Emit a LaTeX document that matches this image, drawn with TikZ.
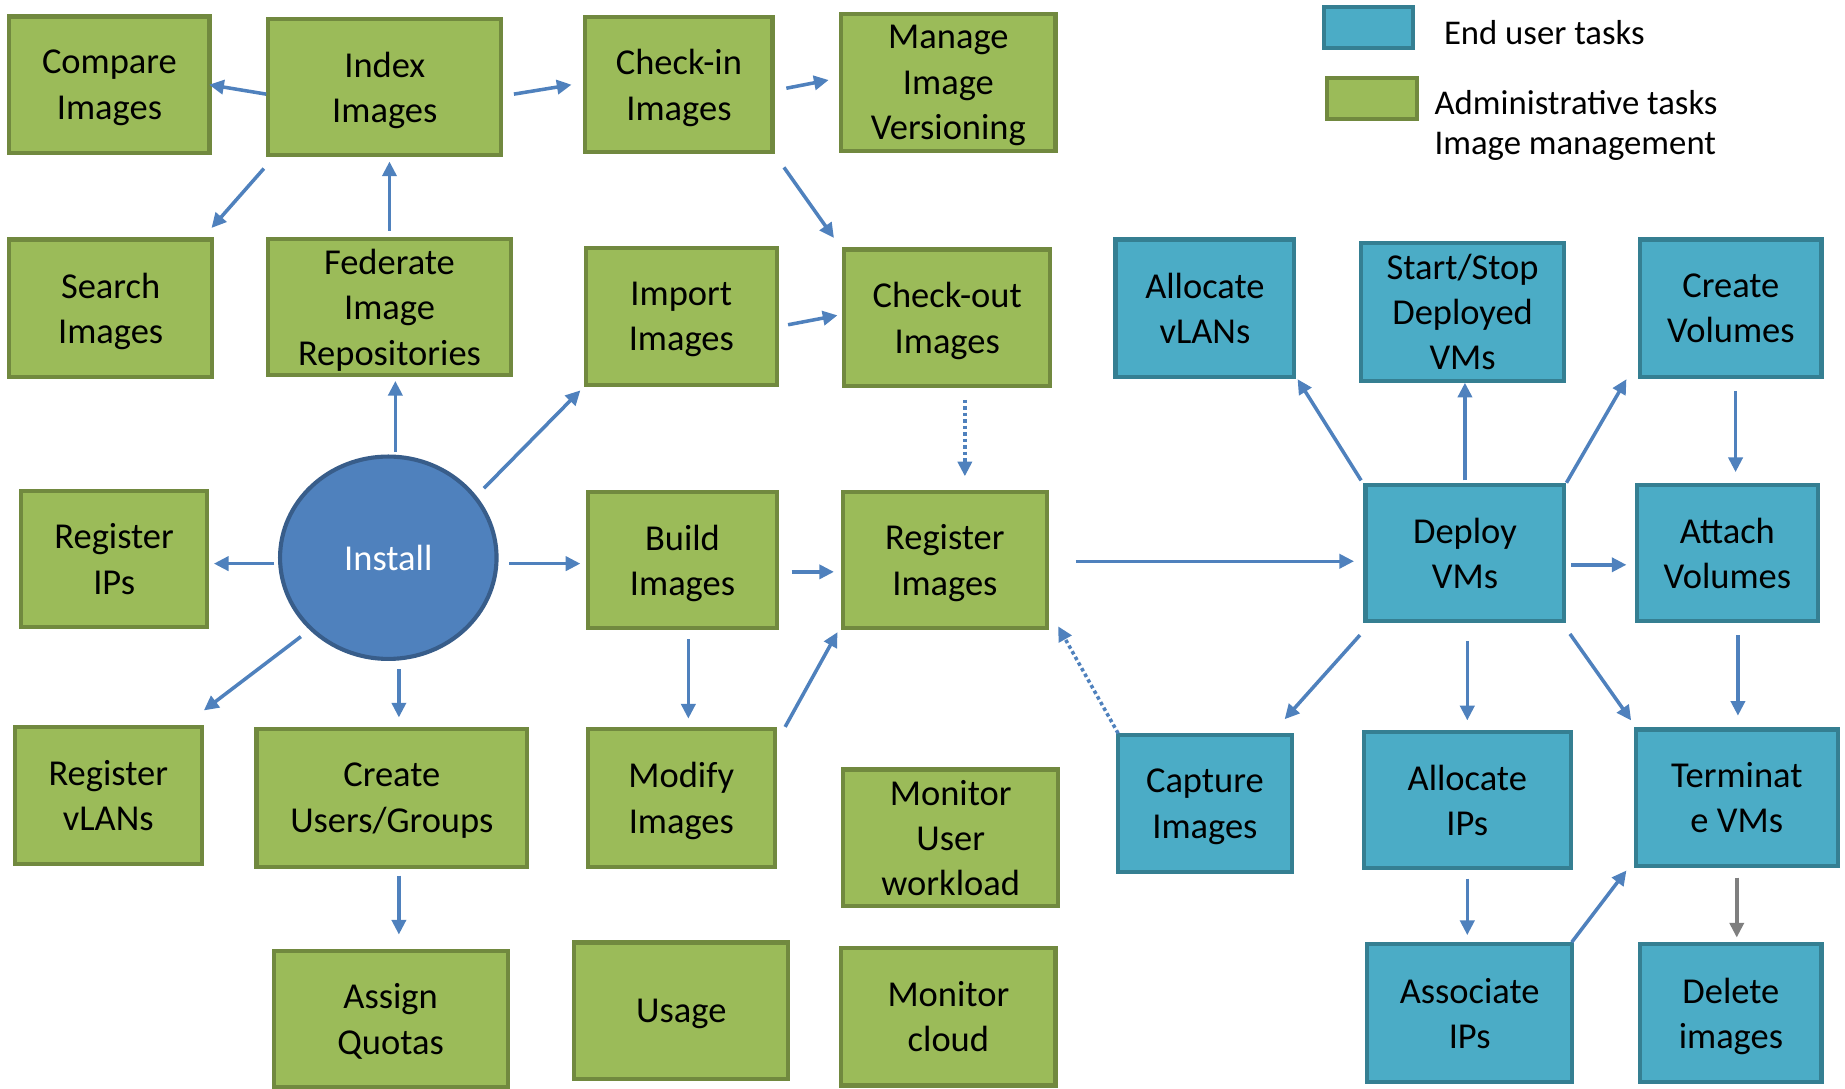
\documentclass[tikz,border=0pt]{standalone}
\usepackage{fontspec}
\setmainfont{Carlito}
\usetikzlibrary{arrows.meta,shapes.geometric}

\definecolor{admfill}{HTML}{9BBB59}
\definecolor{admline}{HTML}{71893F}
\definecolor{usrfill}{HTML}{4BACC6}
\definecolor{usrline}{HTML}{357F92}
\definecolor{instfill}{HTML}{4F81BD}
\definecolor{instline}{HTML}{385D8A}
\definecolor{flow}{HTML}{4F81BD}
\definecolor{flowgray}{HTML}{7F7F7F}

\tikzset{
  taskbox/.style={rectangle, line width=3.5pt, inner sep=0pt, align=center,
    font=\fontsize{31}{38.5}\selectfont, text depth=-5.5pt},
  gbox/.style={taskbox, draw=admline, fill=admfill},
  bbox/.style={taskbox, draw=usrline, fill=usrfill},
  arr/.style={draw=flow, line width=3pt, -{Triangle[length=12.5pt,width=12pt]}},
  dotarr/.style={arr, dash pattern=on 3pt off 2.5pt},
  grayarr/.style={arr, draw=flowgray},
  legendtxt/.style={anchor=west, inner sep=0pt, font=\fontsize{29.5}{35}\selectfont}
}

\begin{document}
\begin{tikzpicture}[x=1pt,y=-1pt]
\useasboundingbox (0,0) rectangle (1568,925.5);

% administrative tasks
\node[gbox, minimum width=170pt, minimum height=116pt] (compare)  at (93,72)   {Compare\\Images};
\node[gbox, minimum width=198pt, minimum height=115pt] (index)    at (327,74)  {Index\\Images};
\node[gbox, minimum width=159pt, minimum height=115pt] (checkin)  at (577,72)  {Check-in\\Images};
\node[gbox, minimum width=182pt, minimum height=116pt] (manage)   at (806,70)  {Manage\\Image\\Versioning};
\node[gbox, minimum width=172pt, minimum height=117pt] (search)   at (94,262)  {Search\\Images};
\node[gbox, minimum width=207pt, minimum height=116pt] (federate) at (331,261) {Federate\\Image\\Repositories};
\node[gbox, minimum width=162pt, minimum height=116pt] (import)   at (579,269) {Import\\Images};
\node[gbox, minimum width=175pt, minimum height=116pt] (checkout) at (805,270) {Check-out\\Images};
\node[gbox, minimum width=158pt, minimum height=116pt] (regips)   at (97,475)  {Register\\IPs};
\node[gbox, minimum width=160pt, minimum height=115pt] (build)    at (580,476) {Build\\Images};
\node[gbox, minimum width=173pt, minimum height=115pt] (regimg)   at (803,476) {Register\\Images};
\node[gbox, minimum width=159pt, minimum height=117pt] (regvlan)  at (92,676)  {Register\\vLANs};
\node[gbox, minimum width=230pt, minimum height=117pt] (users)    at (333,678) {Create\\Users/Groups};
\node[gbox, minimum width=159pt, minimum height=117pt] (modify)   at (579,678) {Modify\\Images};
\node[gbox, minimum width=183pt, minimum height=116pt] (monuser)  at (808,712) {Monitor\\User\\workload};
\node[gbox, minimum width=199pt, minimum height=116pt] (quotas)   at (332,866) {Assign\\Quotas};
\node[gbox, minimum width=182pt, minimum height=116pt] (usage)    at (579,859) {Usage};
\node[gbox, minimum width=182pt, minimum height=117pt] (moncloud) at (806,864) {Monitor\\cloud};

% install
\node[ellipse, draw=instline, fill=instfill, line width=3.5pt, inner sep=0pt,
      minimum width=184pt, minimum height=172pt, text=white,
      font=\fontsize{31}{38.5}\selectfont] (install) at (330,474) {Install};

% end user tasks
\node[bbox, minimum width=152pt, minimum height=117pt] (allocvlan) at (1024,262) {Allocate\\vLANs};
\node[bbox, minimum width=173pt, minimum height=117pt] (startstop) at (1243,265) {Start/Stop\\Deployed\\VMs};
\node[bbox, minimum width=154pt, minimum height=117pt] (createvol) at (1471,262) {Create\\Volumes};
\node[bbox, minimum width=169pt, minimum height=116pt] (deploy)    at (1245,470) {Deploy\\VMs};
\node[bbox, minimum width=154pt, minimum height=116pt] (attach)    at (1468,470) {Attach\\Volumes};
\node[bbox, minimum width=148pt, minimum height=116pt] (capture)   at (1024,683) {Capture\\Images};
\node[bbox, minimum width=176pt, minimum height=116pt] (allocips)  at (1247,680) {Allocate\\IPs};
\node[bbox, minimum width=172pt, minimum height=116pt] (terminate) at (1476,678) {Terminat\\e VMs};
\node[bbox, minimum width=174pt, minimum height=117pt] (associps)  at (1249,861) {Associate\\IPs};
\node[bbox, minimum width=154pt, minimum height=117pt] (delete)    at (1471,861) {Delete\\images};

% legend
\node[bbox, minimum width=76pt, minimum height=35pt] (keyuser) at (1163,23.5) {};
\node[gbox, minimum width=76pt, minimum height=35pt] (keyadm)  at (1166,83.5) {};
\node[legendtxt] (keyusertxt) at (1227,28) {End user tasks};
\node[legendtxt] (keyadmtxt)  at (1219,87) {Administrative tasks};
\node[legendtxt] (keyimgtxt)  at (1219,124) {Image management};

% image management flows
\draw[arr] ([shift={(0,6)}]index.west) -- ([shift={(-2,0)}]compare.east);
\draw[arr] ([shift={(9,6)}]index.east) -- ([shift={(-10,0)}]checkin.west);
\draw[arr] ([shift={(-2,10)}]index.south west) -- ([shift={(-2,-8)}]search.north east);
\draw[arr] ([shift={(0,-5)}]federate.north) -- ([shift={(4,4)}]index.south);
\draw[arr] ([shift={(10,3)}]checkin.east) -- ([shift={(-9,-2)}]manage.west);
\draw[arr] ([shift={(8,11)}]checkin.south east) -- ([shift={(-7,-8)}]checkout.north west);
\draw[arr] ([shift={(8,7)}]import.east) -- ([shift={(-4,-2)}]checkout.west);
\draw[dotarr] ([shift={(15,10)}]checkout.south) -- ([shift={(17,-12)}]regimg.north);

% installation flows
\draw[arr] ([shift={(6,-2)}]install.north) -- ([shift={(5,3)}]federate.south);
\draw[arr] ([shift={(15,3)}]install.north east) -- ([shift={(-3,3)}]import.south west);
\draw[arr] ([shift={(-3,5)}]install.west) -- ([shift={(4,4)}]regips.east);
\draw[arr] ([shift={(9,5)}]install.east) -- ([shift={(-5,3)}]build.west);
\draw[arr] ([shift={(-8,5)}]install.south west) -- ([shift={(0,-12)}]regvlan.north east);
\draw[arr] ([shift={(9,7)}]install.south) -- ([shift={(6,-8)}]users.north);
\draw[arr] ([shift={(6,6)}]users.south) -- ([shift={(7,-12)}]quotas.north);
\draw[arr] ([shift={(11,10)}]build.east) -- ([shift={(-6,10)}]regimg.west);
\draw[arr] ([shift={(5,8)}]build.south) -- ([shift={(6,-7)}]modify.north);
\draw[arr] ([shift={(7,0)}]modify.north east) -- ([shift={(-3,2)}]regimg.south west);

% end user flows
\draw[arr] ([shift={(23,1)}]regimg.east) -- ([shift={(-8,7)}]deploy.west);
\draw[dotarr] ([shift={(2,0)}]capture.north west) -- ([shift={(8,-3)}]regimg.south east);
\draw[arr] ([shift={(-2,-2)}]deploy.north west) -- ([shift={(1,0)}]allocvlan.south east);
\draw[arr] ([shift={(0,-2)}]deploy.north) -- ([shift={(2,0)}]startstop.south);
\draw[arr] (deploy.north east) -- ([shift={(-10,0)}]createvol.south west);
\draw[arr] ([shift={(4,10)}]createvol.south) -- ([shift={(7,-9)}]attach.north);
\draw[arr] ([shift={(4,10)}]deploy.east) -- ([shift={(-7,10)}]attach.west);
\draw[arr] ([shift={(-3,10)}]deploy.south west) -- ([shift={(-8,-12)}]capture.north east);
\draw[arr] ([shift={(2,15)}]deploy.south) -- ([shift={(0,-8)}]allocips.north);
\draw[arr] ([shift={(3,9)}]deploy.south east) -- ([shift={(-2,-6)}]terminate.north west);
\draw[arr] ([shift={(9,10)}]attach.south) -- ([shift={(1,-10)}]terminate.north);
\draw[arr] ([shift={(0,7)}]allocips.south) -- ([shift={(-2,-6)}]associps.north);
\draw[arr] ([shift={(-2,0)}]associps.north east) -- ([shift={(-6,2)}]terminate.south west);
\draw[grayarr] ([shift={(0,8)}]terminate.south) -- ([shift={(5,-4)}]delete.north);
\end{tikzpicture}
\end{document}
